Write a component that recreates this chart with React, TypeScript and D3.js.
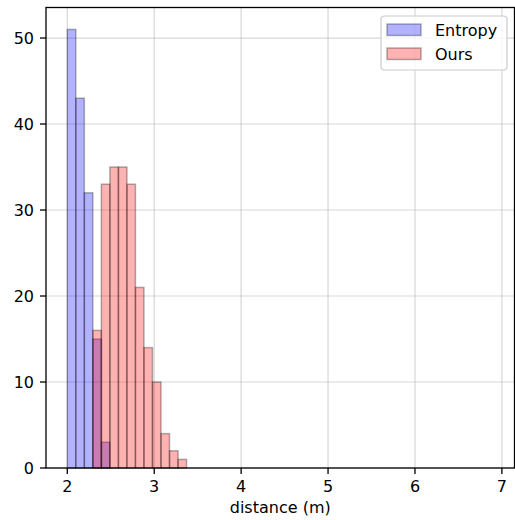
import React from "react";
import * as d3 from "d3";

const binStart = 2.0;
const binWidth = 0.098;
const entropyCounts = [51, 43, 32, 15, 3];
const oursCounts = [0, 0, 0, 16, 33, 35, 35, 33, 21, 14, 10, 4, 2, 1];
const xTicks = [2, 3, 4, 5, 6, 7];
const yTicks = [0, 10, 20, 30, 40, 50];
const seriesNames = ["Entropy", "Ours"];
const seriesColors = ["#0000ff", "#ff0000"];

const W = 515;
const H = 520;
const FONT = "'DejaVu Sans', sans-serif";

export default function App() {
  const x = d3.scaleLinear().domain([1.755, 7.145]).range([46, 514.5]);
  const y = d3.scaleLinear().domain([0, 53.55]).range([468, 7.5]);
  const series = [entropyCounts, oursCounts];

  return (
    <div style={{ position: "fixed", left: 0, top: 0 }}>
      <svg width={W} height={H} style={{ display: "block", background: "#fff" }}>
        <g>
          {xTicks.map((t) => (
            <line key={"gx" + t} x1={x(t)} x2={x(t)} y1={y.range()[1]} y2={y.range()[0]} stroke="#b0b0b0" strokeOpacity={0.5} strokeWidth={1.2} />
          ))}
          {yTicks.map((t) => (
            <line key={"gy" + t} x1={x.range()[0]} x2={x.range()[1]} y1={y(t)} y2={y(t)} stroke="#b0b0b0" strokeOpacity={0.5} strokeWidth={1.2} />
          ))}
        </g>
        {series.map((counts, si) => (
          <g key={"s" + si}>
            {counts.map((c, i) =>
              c > 0 ? (
                <rect
                  key={i}
                  x={x(binStart + i * binWidth)}
                  y={y(c)}
                  width={x(binStart + (i + 1) * binWidth) - x(binStart + i * binWidth)}
                  height={y(0) - y(c)}
                  fill={seriesColors[si]}
                  fillOpacity={0.3}
                  stroke="#000"
                  strokeOpacity={0.3}
                  strokeWidth={1.5}
                />
              ) : null
            )}
          </g>
        ))}
        <rect x={x.range()[0]} y={y.range()[1]} width={x.range()[1] - x.range()[0]} height={y.range()[0] - y.range()[1]} fill="none" stroke="#000" strokeWidth={1.3} />
        {xTicks.map((t) => (
          <g key={"xt" + t}>
            <line x1={x(t)} x2={x(t)} y1={y(0)} y2={y(0) + 6} stroke="#000" strokeWidth={1.3} />
            <text x={x(t)} y={492} textAnchor="middle" fontFamily={FONT} fontSize={16} fill="#000">{t}</text>
          </g>
        ))}
        {yTicks.map((t) => (
          <g key={"yt" + t}>
            <line x1={x.range()[0] - 6} x2={x.range()[0]} y1={y(t)} y2={y(t)} stroke="#000" strokeWidth={1.3} />
            <text x={34} y={y(t)} dy="0.36em" textAnchor="end" fontFamily={FONT} fontSize={16} fill="#000">{t}</text>
          </g>
        ))}
        <text x={(x.range()[0] + x.range()[1]) / 2} y={513} textAnchor="middle" fontFamily={FONT} fontSize={16} fill="#000">distance (m)</text>
        <g>
          <rect x={381} y={16} width={126} height={54} rx={3.5} fill="#fff" fillOpacity={0.8} stroke="#cccccc" strokeWidth={1.2} />
          {seriesNames.map((name, i) => (
            <g key={name}>
              <rect x={387} y={24 + i * 24} width={34} height={11.5} fill={seriesColors[i]} fillOpacity={0.3} stroke="#000" strokeOpacity={0.3} strokeWidth={1.5} />
              <text x={435} y={29.75 + i * 24} dy="0.36em" fontFamily={FONT} fontSize={16} fill="#000">{name}</text>
            </g>
          ))}
        </g>
      </svg>
    </div>
  );
}
